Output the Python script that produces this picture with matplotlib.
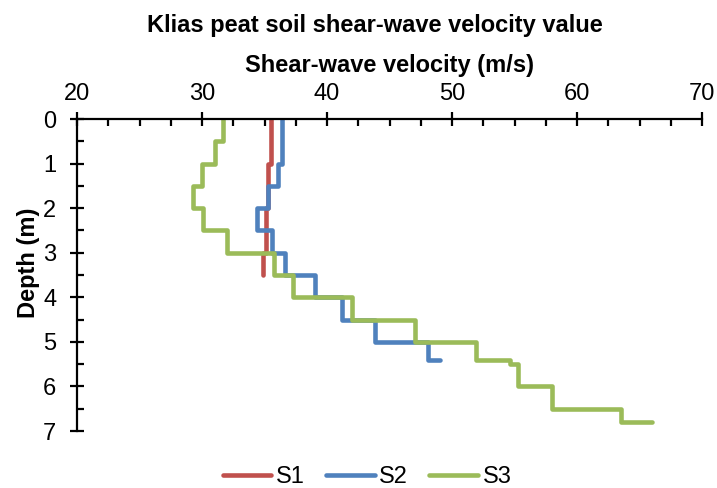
import matplotlib
matplotlib.use("Agg")
import matplotlib.pyplot as plt
from matplotlib.ticker import MultipleLocator

plt.rcParams['font.family'] = ['Liberation Sans', 'DejaVu Sans']

# Step-profile vertices (velocity m/s, depth m)
s1_vel = [35.5, 35.5, 35.3, 35.3, 35.1, 35.1, 34.9, 34.9]
s1_depth = [0.0, 1.0, 1.0, 2.0, 2.0, 3.0, 3.0, 3.5]

s2_vel = [36.4, 36.4, 36.1, 36.1, 35.3, 35.3, 34.4, 34.4, 35.6, 35.6, 36.6, 36.6,
          39.0, 39.0, 41.2, 41.2, 43.8, 43.8, 48.1, 48.1, 49.0]
s2_depth = [0.0, 1.0, 1.0, 1.5, 1.5, 2.0, 2.0, 2.5, 2.5, 3.0, 3.0, 3.5,
            3.5, 4.0, 4.0, 4.5, 4.5, 5.0, 5.0, 5.4, 5.4]

s3_vel = [31.7, 31.7, 31.0, 31.0, 30.0, 30.0, 29.3, 29.3, 30.1, 30.1, 32.0, 32.0,
          35.8, 35.8, 37.3, 37.3, 42.0, 42.0, 47.0, 47.0, 51.9, 51.9, 54.6, 54.6,
          55.3, 55.3, 58.0, 58.0, 63.5, 63.5, 66.0]
s3_depth = [0.0, 0.5, 0.5, 1.0, 1.0, 1.5, 1.5, 2.0, 2.0, 2.5, 2.5, 3.0,
            3.0, 3.5, 3.5, 4.0, 4.0, 4.5, 4.5, 5.0, 5.0, 5.4, 5.4, 5.5,
            5.5, 6.0, 6.0, 6.5, 6.5, 6.8, 6.8]

series = [("S1", s1_vel, s1_depth, "#C0504D"),
          ("S2", s2_vel, s2_depth, "#4F81BD"),
          ("S3", s3_vel, s3_depth, "#9BBB59")]

W, H = 717, 488
fig = plt.figure(figsize=(W / 100, H / 100), dpi=100)
x0, x1, y0, y1 = 77, 702, 119, 431
ax = fig.add_axes([x0 / W, 1 - y1 / H, (x1 - x0) / W, (y1 - y0) / H])

for name, v, d, c in series:
    ax.plot(v, d, color=c, lw=3.3, label=name, solid_capstyle='round',
            solid_joinstyle='round')

ax.set_xlim(20, 70)
ax.set_ylim(7, 0)
ax.xaxis.set_major_locator(MultipleLocator(10))
ax.xaxis.set_minor_locator(MultipleLocator(2.5))
ax.yaxis.set_major_locator(MultipleLocator(1))
ax.yaxis.set_minor_locator(MultipleLocator(0.5))
ax.xaxis.tick_top()
ax.xaxis.set_label_position('top')

for s in ['right', 'bottom']:
    ax.spines[s].set_visible(False)
for s in ['left', 'top']:
    ax.spines[s].set_linewidth(1.6)
    ax.spines[s].set_color('black')

ax.tick_params(which='major', direction='inout', length=10, width=1.6,
               labelsize=17)
ax.tick_params(axis='x', which='major', pad=5)
ax.tick_params(axis='y', which='major', pad=10)
ax.tick_params(which='minor', direction='in', length=5, width=1.6)

ax.set_xlabel("Shear-wave velocity (m/s)", fontsize=17, fontweight='bold', labelpad=8)
ax.set_ylabel("Depth (m)", fontsize=17, fontweight='bold')
ax.yaxis.set_label_coords(-0.059, 0.54)
fig.text(374.5 / W, 1 - 32 / H, "Klias peat soil shear-wave velocity value", ha='center',
         va='baseline', fontsize=17, fontweight='bold')

fig.legend(loc='center', bbox_to_anchor=(0.512, 1 - 477 / H), ncol=3, frameon=False,
           fontsize=17, handlelength=2.05, columnspacing=0.9, handletextpad=0.2)

fig.savefig("out.png", dpi=100)
